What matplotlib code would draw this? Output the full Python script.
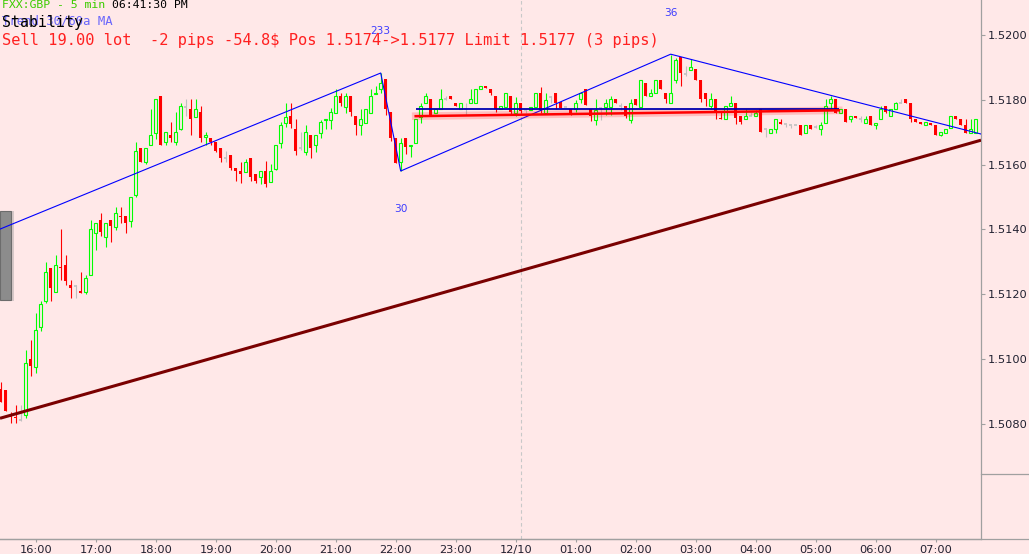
import matplotlib
matplotlib.use('Agg')
import matplotlib.pyplot as plt
import matplotlib.dates as mdates
from matplotlib.patches import Rectangle
from matplotlib.lines import Line2D
import pandas as pd
import numpy as np

# FXX:GBP 5 min bars, 12/09 15:25 -> 12/10 07:40
opens = [
    1.50908, 1.50905, 1.50828, 1.50822, 1.50813, 1.50828, 1.51001, 1.50976, 1.51099, 1.51179,
    1.51281, 1.51207, 1.51284, 1.51290, 1.51229, 1.51226, 1.51210, 1.51207, 1.51259, 1.51389,
    1.51429, 1.51377, 1.51429, 1.51407, 1.51441, 1.51441, 1.51426, 1.51506, 1.51651, 1.51608,
    1.51660, 1.51697, 1.51811, 1.51669, 1.51691, 1.51669, 1.51709, 1.51777, 1.51771, 1.51746,
    1.51762, 1.51685, 1.51682, 1.51669, 1.51651, 1.51620, 1.51629, 1.51589, 1.51580, 1.51577,
    1.51620, 1.51571, 1.51561, 1.51580, 1.51546, 1.51586, 1.51666, 1.51728, 1.51749, 1.51709,
    1.51651, 1.51639, 1.51691, 1.51660, 1.51697, 1.51737, 1.51737, 1.51759, 1.51811, 1.51777,
    1.51811, 1.51749, 1.51722, 1.51728, 1.51759, 1.51817, 1.51833, 1.51863, 1.51762, 1.51682,
    1.51608, 1.51682, 1.51657, 1.51666, 1.51746, 1.51790, 1.51802, 1.51759, 1.51771, 1.51802,
    1.51811, 1.51790, 1.51771, 1.51771, 1.51790, 1.51790, 1.51833, 1.51842, 1.51833, 1.51811,
    1.51771, 1.51777, 1.51811, 1.51759, 1.51790, 1.51768, 1.51768, 1.51777, 1.51820, 1.51759,
    1.51808, 1.51820, 1.51793, 1.51777, 1.51771, 1.51771, 1.51802, 1.51833, 1.51771, 1.51737,
    1.51774, 1.51777, 1.51777, 1.51802, 1.51780, 1.51780, 1.51737, 1.51802, 1.51777, 1.51851,
    1.51811, 1.51820, 1.51860, 1.51820, 1.51790, 1.51860, 1.51931, 1.51879, 1.51891, 1.51894,
    1.51860, 1.51820, 1.51780, 1.51802, 1.51743, 1.51740, 1.51780, 1.51790, 1.51749, 1.51740,
    1.51749, 1.51749, 1.51771, 1.51709, 1.51697, 1.51709, 1.51731, 1.51725, 1.51722, 1.51722,
    1.51722, 1.51697, 1.51722, 1.51716, 1.51709, 1.51728, 1.51790, 1.51802, 1.51759, 1.51771,
    1.51740, 1.51749, 1.51740, 1.51728, 1.51749, 1.51722, 1.51740, 1.51780, 1.51749, 1.51771,
    1.51790, 1.51802, 1.51790, 1.51740, 1.51731, 1.51722, 1.51728, 1.51722, 1.51691, 1.51697,
    1.51712, 1.51749, 1.51740, 1.51722, 1.51697, 1.51697,
]
highs = [
    1.50930, 1.50905, 1.50837, 1.50859, 1.50859, 1.51028, 1.51059, 1.51142, 1.51179, 1.51300,
    1.51281, 1.51321, 1.51401, 1.51321, 1.51244, 1.51229, 1.51269, 1.51259, 1.51429, 1.51420,
    1.51451, 1.51420, 1.51429, 1.51469, 1.51469, 1.51441, 1.51500, 1.51669, 1.51651, 1.51651,
    1.51771, 1.51802, 1.51811, 1.51700, 1.51731, 1.51762, 1.51790, 1.51802, 1.51802, 1.51802,
    1.51780, 1.51700, 1.51682, 1.51669, 1.51651, 1.51642, 1.51629, 1.51589, 1.51608, 1.51617,
    1.51620, 1.51571, 1.51580, 1.51611, 1.51602, 1.51660, 1.51731, 1.51790, 1.51790, 1.51740,
    1.51700, 1.51722, 1.51691, 1.51691, 1.51737, 1.51740, 1.51774, 1.51833, 1.51820, 1.51820,
    1.51811, 1.51749, 1.51771, 1.51771, 1.51833, 1.51842, 1.51882, 1.51863, 1.51762, 1.51682,
    1.51682, 1.51682, 1.51660, 1.51740, 1.51790, 1.51820, 1.51802, 1.51771, 1.51833, 1.51811,
    1.51811, 1.51790, 1.51790, 1.51790, 1.51833, 1.51833, 1.51842, 1.51842, 1.51833, 1.51811,
    1.51780, 1.51820, 1.51811, 1.51808, 1.51790, 1.51771, 1.51777, 1.51820, 1.51839, 1.51820,
    1.51811, 1.51820, 1.51793, 1.51777, 1.51771, 1.51799, 1.51823, 1.51833, 1.51771, 1.51802,
    1.51777, 1.51802, 1.51811, 1.51802, 1.51790, 1.51780, 1.51802, 1.51802, 1.51860, 1.51851,
    1.51833, 1.51860, 1.51860, 1.51820, 1.51937, 1.51928, 1.51931, 1.51904, 1.51925, 1.51894,
    1.51860, 1.51820, 1.51820, 1.51802, 1.51762, 1.51780, 1.51811, 1.51790, 1.51749, 1.51771,
    1.51762, 1.51768, 1.51771, 1.51709, 1.51709, 1.51740, 1.51740, 1.51725, 1.51722, 1.51722,
    1.51722, 1.51722, 1.51722, 1.51722, 1.51731, 1.51802, 1.51811, 1.51802, 1.51771, 1.51771,
    1.51749, 1.51749, 1.51749, 1.51749, 1.51749, 1.51728, 1.51780, 1.51780, 1.51771, 1.51793,
    1.51802, 1.51802, 1.51790, 1.51740, 1.51731, 1.51731, 1.51728, 1.51722, 1.51700, 1.51709,
    1.51749, 1.51749, 1.51740, 1.51740, 1.51740, 1.51740,
]
lows = [
    1.50868, 1.50840, 1.50803, 1.50803, 1.50810, 1.50819, 1.50948, 1.50957, 1.51087, 1.51173,
    1.51179, 1.51207, 1.51244, 1.51229, 1.51189, 1.51189, 1.51204, 1.51201, 1.51259, 1.51337,
    1.51380, 1.51346, 1.51361, 1.51398, 1.51420, 1.51389, 1.51407, 1.51500, 1.51608, 1.51602,
    1.51660, 1.51679, 1.51660, 1.51660, 1.51669, 1.51660, 1.51706, 1.51749, 1.51691, 1.51746,
    1.51669, 1.51660, 1.51660, 1.51639, 1.51608, 1.51608, 1.51583, 1.51549, 1.51543, 1.51577,
    1.51549, 1.51543, 1.51540, 1.51531, 1.51546, 1.51583, 1.51651, 1.51716, 1.51712, 1.51629,
    1.51645, 1.51629, 1.51620, 1.51639, 1.51682, 1.51709, 1.51709, 1.51759, 1.51780, 1.51759,
    1.51749, 1.51691, 1.51691, 1.51728, 1.51759, 1.51817, 1.51820, 1.51753, 1.51672, 1.51605,
    1.51580, 1.51632, 1.51623, 1.51666, 1.51728, 1.51790, 1.51749, 1.51759, 1.51771, 1.51799,
    1.51802, 1.51780, 1.51771, 1.51753, 1.51790, 1.51790, 1.51833, 1.51836, 1.51814, 1.51762,
    1.51771, 1.51777, 1.51756, 1.51749, 1.51759, 1.51759, 1.51768, 1.51777, 1.51759, 1.51759,
    1.51790, 1.51771, 1.51774, 1.51777, 1.51753, 1.51762, 1.51790, 1.51783, 1.51734, 1.51722,
    1.51737, 1.51753, 1.51753, 1.51790, 1.51768, 1.51743, 1.51728, 1.51783, 1.51777, 1.51811,
    1.51811, 1.51820, 1.51833, 1.51790, 1.51790, 1.51851, 1.51842, 1.51873, 1.51891, 1.51860,
    1.51793, 1.51780, 1.51771, 1.51740, 1.51740, 1.51740, 1.51780, 1.51725, 1.51725, 1.51740,
    1.51749, 1.51749, 1.51700, 1.51685, 1.51697, 1.51697, 1.51725, 1.51716, 1.51712, 1.51722,
    1.51691, 1.51697, 1.51709, 1.51712, 1.51691, 1.51728, 1.51771, 1.51759, 1.51759, 1.51731,
    1.51731, 1.51743, 1.51731, 1.51728, 1.51722, 1.51709, 1.51740, 1.51759, 1.51749, 1.51771,
    1.51790, 1.51790, 1.51731, 1.51731, 1.51725, 1.51722, 1.51722, 1.51691, 1.51688, 1.51697,
    1.51712, 1.51740, 1.51722, 1.51697, 1.51697, 1.51697,
]
closes = [
    1.50868, 1.50840, 1.50822, 1.50819, 1.50813, 1.50988, 1.50979, 1.51090, 1.51170, 1.51269,
    1.51219, 1.51290, 1.51281, 1.51241, 1.51219, 1.51226, 1.51204, 1.51250, 1.51401, 1.51420,
    1.51392, 1.51420, 1.51410, 1.51451, 1.51438, 1.51420, 1.51500, 1.51642, 1.51608, 1.51651,
    1.51691, 1.51802, 1.51660, 1.51700, 1.51682, 1.51700, 1.51780, 1.51777, 1.51740, 1.51771,
    1.51682, 1.51691, 1.51669, 1.51642, 1.51620, 1.51620, 1.51589, 1.51580, 1.51571, 1.51608,
    1.51561, 1.51549, 1.51580, 1.51540, 1.51580, 1.51660, 1.51722, 1.51746, 1.51725, 1.51642,
    1.51651, 1.51700, 1.51651, 1.51691, 1.51731, 1.51740, 1.51762, 1.51811, 1.51790, 1.51811,
    1.51762, 1.51722, 1.51740, 1.51771, 1.51811, 1.51820, 1.51851, 1.51771, 1.51682, 1.51605,
    1.51666, 1.51654, 1.51660, 1.51740, 1.51780, 1.51811, 1.51749, 1.51771, 1.51802, 1.51802,
    1.51802, 1.51780, 1.51790, 1.51771, 1.51802, 1.51833, 1.51842, 1.51836, 1.51820, 1.51771,
    1.51780, 1.51820, 1.51762, 1.51790, 1.51765, 1.51768, 1.51777, 1.51820, 1.51768, 1.51799,
    1.51808, 1.51790, 1.51774, 1.51777, 1.51759, 1.51790, 1.51820, 1.51783, 1.51749, 1.51768,
    1.51774, 1.51790, 1.51802, 1.51790, 1.51780, 1.51749, 1.51790, 1.51783, 1.51860, 1.51811,
    1.51820, 1.51860, 1.51833, 1.51802, 1.51820, 1.51922, 1.51882, 1.51879, 1.51900, 1.51860,
    1.51802, 1.51802, 1.51802, 1.51762, 1.51740, 1.51780, 1.51790, 1.51743, 1.51731, 1.51749,
    1.51749, 1.51759, 1.51700, 1.51709, 1.51709, 1.51740, 1.51725, 1.51725, 1.51722, 1.51722,
    1.51691, 1.51722, 1.51709, 1.51716, 1.51722, 1.51780, 1.51802, 1.51759, 1.51771, 1.51731,
    1.51749, 1.51743, 1.51740, 1.51740, 1.51722, 1.51728, 1.51771, 1.51762, 1.51771, 1.51790,
    1.51790, 1.51790, 1.51740, 1.51731, 1.51725, 1.51731, 1.51722, 1.51691, 1.51700, 1.51709,
    1.51749, 1.51740, 1.51722, 1.51697, 1.51709, 1.51740,
]

first_bar = '2015-12-09 15:25:00'

# zigzag (blue) pivots and their labels
zigzag_times = ['2015-12-09 15:24:18', '2015-12-09 21:45:00', '2015-12-09 22:05:00',
                '2015-12-10 02:35:00', '2015-12-10 07:45:18']
zigzag_prices = [1.51401, 1.51882, 1.51580, 1.51940, 1.51694]
zigzag_labels = ['', '233', '30', '36', '']

# long trend line (dark red)
trend_times = ['2015-12-09 15:24:18', '2015-12-10 07:45:18']
trend_prices = [1.50818, 1.51675]

# open position -> limit
pos_times = ['2015-12-09 22:20:00', '2015-12-10 05:23:00']
pos_prices = [1.51749, 1.51767]
limit_price = 1.5177
session_line = '2015-12-10 00:05:00'

hour_ticks = pd.date_range('2015-12-09 16:00:00', '2015-12-10 07:00:00', freq='h')
hour_labels = ['16:00', '17:00', '18:00', '19:00', '20:00', '21:00', '22:00', '23:00',
               '12/10', '01:00', '02:00', '03:00', '04:00', '05:00', '06:00', '07:00']
price_ticks = [1.5080, 1.5100, 1.5120, 1.5140, 1.5160, 1.5180, 1.5200]

bg = '#ffe8e8'
up_col = '#00ff00'
down_col = '#ff0000'
flat_col = '#c0c0c0'
grid_col = '#a0a0a0'


def tnum(strings):
    return np.array([mdates.date2num(pd.Timestamp(s).to_pydatetime()) for s in strings])


W, H = 1029, 554
fig = plt.figure(figsize=(W / 100, H / 100), dpi=100)
fig.patch.set_facecolor(bg)
ax = fig.add_axes([0, 15 / H, 981 / W, 539 / H])
ax.set_facecolor(bg)

o = np.array(opens)
h = np.array(highs)
l = np.array(lows)
c = np.array(closes)
times = pd.date_range(first_bar, periods=len(o), freq='5min')
x = mdates.date2num(times.to_pydatetime())
bw = 3.2 / 1440

up = c > o
down = c < o
flat = c == o
cols = np.where(up, up_col, np.where(down, down_col, flat_col))

ax.vlines(x, l, h, colors=cols, lw=0.8, zorder=2)
ax.bar(x[down], (o - c)[down], bottom=c[down], width=bw, color=down_col, lw=0, zorder=3)
ax.bar(x[up], (c - o)[up], bottom=o[up], width=bw, facecolor=bg, edgecolor=up_col,
       lw=0.8, zorder=3)
ax.hlines(c[flat], x[flat] - bw / 2, x[flat] + bw / 2, colors=flat_col, lw=1.2, zorder=3)

# session separator
ax.axvline(tnum([session_line])[0], color='#c8c8c8', lw=0.8,
           ls=(0, (3.2, 2.6)), zorder=1)

# side tab of the terminal window (under the drawn lines)
ax.add_patch(Rectangle((11 / W, 1 - 301 / H), 3 / W, 90 / H, transform=fig.transFigure,
                       facecolor='#d6c8c8', edgecolor='none', zorder=1, clip_on=False))
ax.add_patch(Rectangle((0, 1 - 300 / H), 11 / W, 89 / H, transform=fig.transFigure,
                       facecolor='#8c8c8c', edgecolor='#6c6c6c', lw=0.8, zorder=1,
                       clip_on=False))

zz_x = tnum(zigzag_times)
ax.plot(zz_x, zigzag_prices, color='#0000ff', lw=0.8, zorder=4)
for i, (xi, yi, lab) in enumerate(zip(zz_x, zigzag_prices, zigzag_labels)):
    if not lab:
        continue
    dy = -27 if zigzag_prices[i] < zigzag_prices[i - 1] else 30
    ax.annotate(lab, (xi, yi), xytext=(0, dy), textcoords='offset points',
                ha='center', va='center', color='#3c3cff', fontsize=7.6,
                family='DejaVu Sans')

tr_x = tnum(trend_times)
ax.plot(tr_x, trend_prices, color='#7a0000', lw=2.2, solid_capstyle='butt', zorder=4)

px = tnum(pos_times)
ax.plot(px, pos_prices, color=(1, 0, 0, 0.18), lw=5.5, zorder=4)
ax.hlines(limit_price, px[0], px[1], color='#0000b0', lw=1.3, zorder=5)
ax.plot(px, pos_prices, color='#ff0000', lw=1.8, zorder=6)

ax.set_xlim(zz_x[0], zz_x[-1])
ax.set_ylim(1.50446, 1.52107)

ax.yaxis.tick_right()
ax.set_yticks(price_ticks)
ax.set_yticklabels(['%.4f' % p for p in price_ticks])
ax.set_xticks(mdates.date2num(hour_ticks.to_pydatetime()))
ax.set_xticklabels(hour_labels)
for s in ['left', 'top']:
    ax.spines[s].set_visible(False)
for s in ['right', 'bottom']:
    ax.spines[s].set_color(grid_col)
    ax.spines[s].set_linewidth(0.9)
ax.tick_params(axis='y', direction='out', length=3, width=0.8, color=grid_col, pad=2,
               labelsize=8.2, labelcolor='#202030')
ax.tick_params(axis='x', direction='out', length=2, width=0.8, color=grid_col, pad=2.5,
               labelsize=8.2, labelcolor='#202030')

# frame pieces outside the price axes
fig.add_artist(Line2D([0, 1], [15 / H, 15 / H], color=grid_col, lw=0.9))
fig.add_artist(Line2D([981 / W, 1], [1 - 473.5 / H] * 2, color=grid_col, lw=0.9))


# header texts
def top_text(xp, yp, s, **kw):
    fig.text(xp / W, 1 - yp / H, s, va='baseline', family='DejaVu Sans Mono', **kw)


top_text(2, 7.5, 'FXX:GBP - 5 min', color='#3ccc00', fontsize=8.25)
top_text(112.5, 7.5, '06:41:30 PM', color='#000000', fontsize=8.25)
top_text(2, 24, 'Trend 30/60a MA', color='#5050ff', fontsize=8.85, alpha=0.85)
top_text(2, 27, 'Stability', color='#000000', fontsize=10.7)
top_text(2, 44.5, 'Sell 19.00 lot  -2 pips -54.8$ Pos 1.5174->1.5177 Limit 1.5177 (3 pips)',
         color='#ff2020', fontsize=11.1)

fig.savefig('out.png', dpi=100, facecolor=bg)
